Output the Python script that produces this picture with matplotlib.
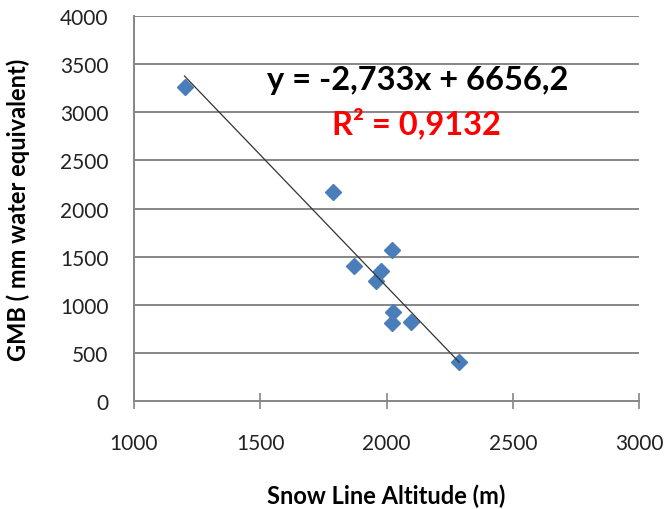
import matplotlib
matplotlib.use("Agg")
import matplotlib.pyplot as plt
import numpy as np

# data
snow_line = [1200, 1788, 2020, 1870, 1980, 1960, 2025, 2022, 2097, 2288]
gmb = [3260, 2170, 1570, 1405, 1350, 1250, 920, 815, 825, 405]

slope = -2.733
intercept = 6656.2
eq_text = "y = -2,733x + 6656,2"
r2_text = "R² = 0,9132"

x_ticks = [1000, 1500, 2000, 2500, 3000]
y_ticks = [0, 500, 1000, 1500, 2000, 2500, 3000, 3500, 4000]

plt.rcParams['font.family'] = ['Lato', 'DejaVu Sans']

fig = plt.figure(figsize=(6.71, 5.10), dpi=100)
ax = fig.add_axes([134 / 671, 108 / 510, 505 / 671, 385 / 510])

grid_col = '#868686'
for y in y_ticks[1:]:
    ax.axhline(y, color=grid_col, linewidth=1.4, zorder=1)

# trend line between min and max x
xl = np.array([min(snow_line), max(snow_line)])
ax.plot(xl, slope * xl + intercept, color='#333333', linewidth=0.9, zorder=3)

ax.plot(snow_line, gmb, linestyle='none', marker='D', markersize=8.5,
        color='#4a7ebb', markeredgecolor='#4a7ebb', zorder=2)

ax.set_xlim(1000, 3000)
ax.set_ylim(0, 4000)
ax.set_xticks(x_ticks)
ax.set_yticks(y_ticks)

for side in ['top', 'right']:
    ax.spines[side].set_visible(False)
for side in ['left', 'bottom']:
    ax.spines[side].set_color(grid_col)
    ax.spines[side].set_linewidth(1.4)

ax.tick_params(axis='x', direction='inout', length=12, width=1.2, color=grid_col,
               labelsize=15, pad=17, labelcolor='#222222')
ax.tick_params(axis='y', length=0, labelsize=15, pad=18.5, labelcolor='#222222')

ax.set_xlabel('Snow Line Altitude (m)', fontsize=17, fontweight='bold')
ax.set_ylabel('GMB ( mm water equivalent)', fontsize=17, fontweight='bold')
ax.xaxis.label.set_va('center')
ax.yaxis.label.set_va('center')
ax.xaxis.set_label_coords(0.5, (402 - 496) / 385)
ax.yaxis.set_label_coords((18 - 134) / 505, 0.5)

ax.text(2125, 3345, eq_text, fontsize=23.5, fontweight='bold', color='black',
        ha='center', va='center', zorder=4)
ax.text(2117, 2899, r2_text, fontsize=23.5, fontweight='bold', color='#ff0000',
        ha='center', va='center', zorder=4)

fig.savefig('out.png', dpi=100)
